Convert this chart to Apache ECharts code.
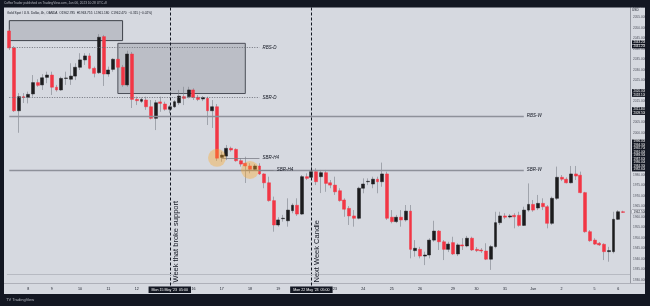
<!DOCTYPE html>
<html><head><meta charset="utf-8">
<script src="https://cdn.jsdelivr.net/npm/echarts@6/dist/echarts.min.js"></script>
<style>html,body{margin:0;padding:0;background:#d6d9e0}#c{width:650px;height:306px}</style>
</head><body><div id="c"></div><script>
// XAUUSD 4h candles, 5 May 2023 -> 6 Jun 2023
const opens = [2048.6,2040.5,2010.6,2017.3,2017.0,2018.6,2024.0,2022.9,2026.5,2027.6,2021.8,2020.5,2026.0,2025.6,2027.1,2031.3,2034.8,2036.7,2030.8,2028.7,
2045.9,2028.1,2030.3,2035.1,2031.3,2022.9,2037.6,2016.0,2015.1,2015.7,2012.5,2007.0,2014.8,2013.8,2011.3,2012.5,2014.4,2017.3,2017.3,2020.5,
2017.0,2016.2,2016.5,2010.6,2012.5,1988.4,1989.0,1992.7,1992.2,1986.8,1985.6,1984.3,1982.7,1984.3,1980.5,1976.3,1967.8,1956.2,1959.2,1958.2,
1963.0,1965.6,1961.4,1979.2,1978.9,1981.6,1979.2,1981.1,1976.3,1975.2,1972.5,1968.1,1964.1,1960.5,1959.4,1973.7,1976.8,1975.7,1978.0,1976.8,
1980.5,1959.9,1957.8,1959.9,1958.6,1962.8,1944.0,1944.6,1941.4,1941.9,1949.0,1953.3,1948.2,1944.6,1947.8,1942.4,1946.7,1946.2,1949.9,1944.6,
1944.3,1943.8,1939.9,1945.9,1957.3,1960.5,1960.0,1960.8,1960.8,1956.0,1963.3,1966.0,1964.3,1966.5,1964.9,1957.0,1968.9,1978.9,1978.0,1976.3,
1980.5,1979.9,1971.6,1953.0,1949.0,1947.5,1947.0,1943.5,1943.5,1958.9,1962.5];
const closes = [2040.5,2010.6,2017.3,2016.9,2018.4,2024.0,2022.7,2026.3,2027.6,2021.8,2020.5,2026.0,2026.2,2027.1,2031.3,2034.8,2036.7,2030.8,2028.4,2045.6,
2028.1,2030.0,2035.1,2031.3,2022.9,2037.6,2016.0,2015.4,2016.0,2012.5,2007.0,2014.4,2014.1,2011.3,2012.5,2014.9,2017.6,2016.5,2020.5,2017.0,
2016.0,2016.9,2010.6,2012.5,1988.0,1989.5,1992.7,1991.9,1986.8,1985.2,1984.3,1982.7,1984.3,1980.5,1976.3,1967.8,1956.2,1958.6,1959.4,1963.3,
1965.6,1961.4,1979.2,1978.4,1981.6,1976.8,1981.1,1976.0,1975.2,1972.0,1967.8,1963.7,1960.5,1959.4,1973.7,1975.7,1977.0,1978.0,1976.8,1980.5,
1959.4,1957.8,1959.9,1958.6,1962.8,1944.6,1945.1,1941.4,1941.9,1949.0,1953.3,1948.2,1944.6,1947.1,1942.4,1946.7,1946.2,1949.9,1944.3,1944.0,
1943.8,1939.9,1945.9,1957.3,1960.5,1959.9,1960.5,1960.1,1956.0,1963.3,1966.0,1963.3,1966.5,1964.9,1957.0,1968.9,1978.9,1978.0,1976.3,1980.5,
1979.5,1971.6,1953.0,1948.7,1947.1,1946.7,1943.5,1944.0,1958.9,1962.5,1962.2];
const lows = [2039.5,2010.0,2000.1,2014.3,2014.1,2017.3,2022.0,2020.5,2023.7,2018.1,2019.7,2020.1,2022.9,2022.9,2025.2,2030.0,2032.4,2030.3,2026.5,2028.1,
2022.4,2026.8,2029.2,2030.0,2022.0,2022.0,2011.9,2013.3,2014.3,2011.0,2006.5,2001.4,2010.1,2010.6,2009.4,2011.9,2013.3,2013.3,2016.5,2015.7,
2015.2,2015.2,2003.8,2002.4,1986.7,1986.3,1987.1,1991.1,1986.3,1984.0,1976.2,1980.8,1982.0,1980.0,1973.7,1967.3,1953.0,1955.4,1957.8,1955.4,
1961.8,1960.5,1961.0,1977.6,1977.6,1975.2,1971.4,1972.0,1973.7,1970.5,1967.3,1960.1,1956.2,1955.4,1958.9,1971.3,1975.2,1973.7,1971.3,1974.4,
1958.6,1957.0,1957.1,1955.4,1957.8,1940.3,1941.1,1940.3,1937.1,1940.3,1948.2,1944.3,1939.5,1943.3,1941.9,1941.4,1944.3,1945.6,1943.8,1943.3,
1942.9,1939.5,1934.8,1945.1,1956.2,1959.0,1959.4,1954.6,1955.4,1955.7,1962.5,1962.5,1963.3,1963.3,1954.6,1956.2,1968.1,1977.1,1976.0,1976.0,
1977.6,1971.3,1952.5,1948.2,1946.7,1946.2,1939.5,1938.7,1942.7,1958.6,1961.9];
const highs = [2049.5,2041.4,2019.0,2019.0,2019.7,2027.6,2025.6,2028.0,2029.2,2029.2,2022.9,2026.8,2029.2,2033.2,2033.2,2038.0,2038.0,2038.0,2031.6,2047.1,
2046.7,2031.6,2035.6,2036.3,2032.4,2039.2,2038.6,2017.3,2016.9,2017.3,2015.7,2015.7,2017.3,2014.9,2013.3,2015.7,2020.5,2022.0,2022.0,2021.3,
2018.1,2017.6,2017.3,2015.7,2013.8,1991.1,1994.3,1993.5,1992.7,1988.0,1988.7,1985.6,1985.2,1985.6,1980.8,1979.2,1969.7,1959.9,1961.0,1968.9,
1966.5,1968.9,1980.0,1980.8,1984.8,1983.2,1982.4,1982.4,1977.6,1979.2,1973.7,1968.9,1965.2,1963.3,1974.4,1978.4,1978.4,1979.2,1979.2,1985.9,
1981.6,1963.3,1961.0,1963.3,1965.7,1965.7,1949.0,1945.8,1943.5,1949.9,1958.2,1953.8,1949.0,1948.2,1950.6,1947.5,1949.9,1951.0,1950.6,1945.7,
1945.2,1947.5,1946.7,1962.5,1962.5,1961.8,1961.4,1961.8,1962.5,1964.9,1976.0,1968.1,1970.5,1968.9,1965.7,1969.7,1984.0,1980.0,1978.9,1984.3,
1984.3,1981.6,1972.0,1953.8,1949.9,1948.1,1947.5,1945.8,1962.5,1963.3,1963.0];

// time axis
const categories = opens.map((_, i) => String(i)).concat(['131']);
const tickIndex = [4,9,15,21,27,34,39,45,51,57,64,69,75,81,87,94,99,105,111,117,124,129];
const tickLabels = ['8','9','10','11','12',"Mon 15 May '23  05:00",'16','17','18','19',"Mon 22 May '23  05:00",'23','24','25','26','29','30','31','Jun','2','5','6'];
const boxedTicks = [34, 64];

// annotation levels
const levelNames = ['RBS-D','SBR-D','RBS-W','SBR-W','SBR-H4','SBR-H4'];
const levelPrices = [2040.8, 2017.0, 2008.2, 1982.4, 1988.0, 1982.4];
const tagPrices = [2043.2,2041.2,2020.0,2018.1,2011.4,2009.5,1996.0,1994.3,1992.7,1991.0,1989.3,1987.6,1986.0,1984.3,1982.6];
const lastPrice = 1962.5;

const BG = '#d6d9e0', DARK = '#131722', RED = '#f23645', BLK = '#1c1c1e', WICK = '#7c7f88';
const FONT = 'Liberation Sans';
const CLEAR = 'rgba(0,0,0,0)';

const wickData = opens.map((o, i) => [o, closes[i], lows[i], highs[i]]);
const bodyData = opens.map((o, i) => [o, closes[i], Math.min(o, closes[i]), Math.max(o, closes[i])]);

const lvlLabel = (t) => ({show: true, position: 'end', distance: 3, formatter: t, fontSize: 4.5, color: DARK, fontFamily: FONT, fontStyle: 'italic'});
const dotted = {type: [1, 1.5], color: '#6f727b', width: 1};
const solidGray = {type: 'solid', color: '#8e919a', width: 1.3};

const markLineData = [
  [{coord: [0, levelPrices[0]], lineStyle: dotted, label: lvlLabel(levelNames[0])}, {coord: [53, levelPrices[0]]}],
  [{coord: [0, levelPrices[1]], lineStyle: dotted, label: lvlLabel(levelNames[1])}, {coord: [53, levelPrices[1]]}],
  [{coord: [0, levelPrices[2]], lineStyle: solidGray, label: lvlLabel(levelNames[2])}, {coord: [109, levelPrices[2]]}],
  [{coord: [0, levelPrices[3]], lineStyle: solidGray, label: lvlLabel(levelNames[3])}, {coord: [109, levelPrices[3]]}],
  [{coord: [45, levelPrices[4]], lineStyle: {type: 'solid', color: '#7c7f88', width: 0.8}, label: lvlLabel(levelNames[4])}, {coord: [53, levelPrices[4]]}],
  [{coord: [50, levelPrices[5]], lineStyle: {type: 'solid', color: '#7c7f88', width: 0.8}, label: lvlLabel(levelNames[5])}, {coord: [56, levelPrices[5]]}],
  {xAxis: 34, lineStyle: {type: [3, 2], color: DARK, width: 1},
   label: {show: true, formatter: 'Week that broke support', position: 'insideStartBottom', distance: [8, 2], fontSize: 7.5, color: DARK, fontFamily: FONT}},
  {xAxis: 64, lineStyle: {type: [3, 2], color: DARK, width: 1},
   label: {show: true, formatter: 'Next Week Candle', position: 'insideStartBottom', distance: [8, 2], fontSize: 7.5, color: DARK, fontFamily: FONT}},
  {yAxis: 1932.9, lineStyle: {type: 'solid', color: '#b7bac2', width: 1}, label: {show: false}}
].concat(tagPrices.map(p => ({yAxis: p, lineStyle: {color: CLEAR, width: 0.1},
  label: {show: true, position: 'end', distance: 2, formatter: p.toFixed(3), fontSize: 3, color: '#ffffff', backgroundColor: DARK, padding: [0.4, 1.5], fontFamily: FONT}})))
 .concat([{yAxis: lastPrice, lineStyle: {color: CLEAR, width: 0.1},
  label: {show: true, position: 'end', distance: 2, formatter: lastPrice.toFixed(3), fontSize: 3, color: DARK, backgroundColor: '#e6e8ee', borderColor: '#8e919a', borderWidth: 0.5, padding: [0.4, 1.5], fontFamily: FONT}}]);

const option = {
  animation: false,
  backgroundColor: BG,
  grid: {left: 6.94, right: 20, top: 7, height: 283.5},
  xAxis: {
    type: 'category', data: categories, boundaryGap: true, z: 10,
    axisLine: {show: false}, axisTick: {show: false}, splitLine: {show: false},
    axisLabel: {
      interval: (i) => tickIndex.includes(i), hideOverlap: false, margin: -4,
      fontSize: 3.6, color: DARK, fontFamily: FONT,
      formatter: (v, i) => { const k = tickIndex.indexOf(i); if (k < 0) return ''; return boxedTicks.includes(i) ? '{b|' + tickLabels[k] + '}' : tickLabels[k]; },
      rich: {b: {backgroundColor: DARK, color: '#ffffff', padding: [1.2, 3], fontSize: 3.6, fontFamily: FONT}}
    }
  },
  yAxis: {
    type: 'value', position: 'right', min: 1925, max: 2060, interval: 5, z: 1,
    axisLine: {show: true, lineStyle: {color: '#9598a1', width: 1}}, axisTick: {show: false}, splitLine: {show: false},
    axisLabel: {fontSize: 3.2, color: '#50535e', margin: 3, fontFamily: FONT, formatter: v => v.toFixed(3)}
  },
  series: [
    {type: 'candlestick', data: wickData, barWidth: 1, silent: true, z: 2,
     itemStyle: {color: WICK, color0: WICK, borderColor: WICK, borderColor0: WICK, borderWidth: 0.6}},
    {type: 'candlestick', data: bodyData, barWidth: 3.4, silent: true, z: 2,
     itemStyle: {color: BLK, color0: RED, borderColor: BLK, borderColor0: RED, borderWidth: 0.5},
     markArea: {silent: true, data: [
       [{coord: [0, 2053.5], itemStyle: {color: 'rgba(120,123,134,0.28)', borderColor: '#3d4048', borderWidth: 1}}, {coord: [24, 2044.0]}],
       [{coord: [23, 2042.7], itemStyle: {color: 'rgba(120,123,134,0.28)', borderColor: '#4c4f58', borderWidth: 1}}, {coord: [50, 2018.8]}]
     ]},
     markLine: {silent: true, symbol: ['none', 'none'], data: markLineData},
     markPoint: {silent: true, symbol: 'circle', symbolSize: 18, label: {show: false},
       itemStyle: {color: 'rgba(255,167,38,0.38)'},
       data: [{coord: [44, 1988.2]}, {coord: [51, 1982.4]}]}
    }
  ],
  graphic: [
    {type: 'rect', z: 3, shape: {x: 4, y: 283.5, width: 641, height: 11}, style: {fill: BG}},
    {type: 'line', z: 3, shape: {x1: 4, y1: 283.5, x2: 645, y2: 283.5}, style: {stroke: '#a3a6af', lineWidth: 0.8}},
    {type: 'rect', z: 50, shape: {x: 0, y: 0, width: 650, height: 7.5}, style: {fill: DARK}},
    {type: 'rect', z: 50, shape: {x: 0, y: 0, width: 4, height: 306}, style: {fill: DARK}},
    {type: 'rect', z: 50, shape: {x: 645, y: 0, width: 5, height: 306}, style: {fill: DARK}},
    {type: 'rect', z: 50, shape: {x: 0, y: 294, width: 650, height: 12}, style: {fill: DARK}},
    {type: 'text', z: 60, x: 4, y: 2, style: {text: 'CoffeeTrader published on TradingView.com, Jun 06, 2023 10:28 UTC+8', fontSize: 3.2, fill: '#b2b5be', fontFamily: FONT}},
    {type: 'text', z: 60, x: 7, y: 11.5, style: {text: 'Gold Spot / U.S. Dollar, 4h, OANDA  O1962.785  H1963.755  L1961.180  C1962.470  −0.315 (−0.02%)', fontSize: 3.2, fill: DARK, fontFamily: FONT}},
    {type: 'text', z: 60, x: 6, y: 298, style: {text: 'TV TradingView', fontSize: 4, fill: '#b2b5be', fontFamily: FONT}},
    {type: 'text', z: 60, x: 632, y: 8.5, style: {text: 'USD', fontSize: 3.2, fill: DARK, fontFamily: FONT}}
  ]
};
const chart = echarts.init(document.getElementById('c'), null, {renderer: 'canvas'});
chart.setOption(option);
</script></body></html>
